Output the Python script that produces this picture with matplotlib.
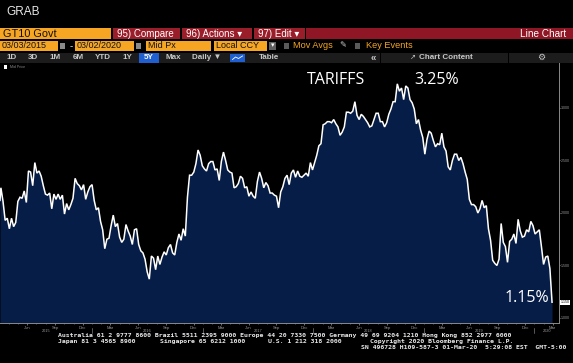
"""
GT10 Govt (US 10Y yield), 5Y line chart in Bloomberg terminal style.
"""
import pandas as pd
import matplotlib
matplotlib.use("Agg")
import matplotlib.pyplot as plt
import matplotlib.dates as mdates
import matplotlib.transforms as mtransforms
from matplotlib.patches import Rectangle

W, H = 573, 363

# ── Yield data: first print + Friday closes, % ────────────────────────────
start_date, start_value = "2015-03-03", 2.12
y2015 = [2.24, 2.11, 1.93, 1.95,
         1.85, 1.95, 1.87, 1.91,
         2.11, 2.15, 2.14, 2.21, 2.10,
         2.40, 2.39, 2.26, 2.48,
         2.38, 2.40, 2.35, 2.26, 2.18,
         2.17, 2.19, 2.04, 2.18,
         2.13, 2.18, 2.13, 2.17,
         1.99, 2.09, 2.03, 2.08, 2.14,
         2.33, 2.28, 2.26, 2.22,
         2.27, 2.13, 2.20, 2.25]
y2016 = [2.27, 2.12, 2.03, 2.05, 1.92,
         1.84, 1.66, 1.75, 1.76,
         1.88, 1.98, 1.87, 1.90,
         1.77, 1.72, 1.75, 1.89, 1.83,
         1.78, 1.70, 1.84, 1.85,
         1.70, 1.64, 1.62, 1.56,
         1.44, 1.37, 1.59, 1.57, 1.46,
         1.59, 1.51, 1.58, 1.63,
         1.60, 1.67, 1.70, 1.62, 1.60,
         1.72, 1.80, 1.74, 1.85,
         1.78, 2.15, 2.36, 2.36,
         2.39, 2.47, 2.60, 2.55, 2.45]
y2017 = [2.42, 2.40, 2.47, 2.49,
         2.49, 2.41, 2.42, 2.31,
         2.49, 2.58, 2.50, 2.41, 2.39,
         2.38, 2.24, 2.25, 2.28,
         2.35, 2.33, 2.24, 2.25,
         2.16, 2.20, 2.16, 2.14, 2.30,
         2.39, 2.33, 2.24, 2.29,
         2.26, 2.19, 2.19, 2.17,
         2.16, 2.05, 2.20, 2.25, 2.33,
         2.36, 2.27, 2.38, 2.41,
         2.34, 2.40, 2.35, 2.34,
         2.36, 2.38, 2.35, 2.48, 2.41]
y2018 = [2.48, 2.55, 2.64, 2.66,
         2.84, 2.85, 2.87, 2.87,
         2.86, 2.89, 2.85, 2.82, 2.74,
         2.77, 2.82, 2.96, 2.96,
         2.95, 2.97, 3.06, 2.93,
         2.89, 2.94, 2.92, 2.89, 2.86,
         2.82, 2.83, 2.89, 2.95,
         2.95, 2.87, 2.87, 2.82, 2.86,
         2.94, 2.99, 3.06, 3.06,
         3.23, 3.16, 3.19, 3.08,
         3.21, 3.19, 3.08, 3.05, 2.99,
         2.85, 2.89, 2.79, 2.72]
y2019 = [2.56, 2.70, 2.78, 2.76,
         2.69, 2.63, 2.66, 2.65,
         2.76, 2.63, 2.59, 2.44, 2.41,
         2.50, 2.56, 2.56, 2.50,
         2.53, 2.47, 2.39, 2.32, 2.13,
         2.08, 2.08, 2.06, 2.00,
         2.04, 2.12, 2.05, 2.07,
         1.85, 1.74, 1.55, 1.52, 1.50,
         1.56, 1.90, 1.72, 1.68,
         1.53, 1.73, 1.75, 1.80,
         1.71, 1.94, 1.83, 1.77, 1.78,
         1.84, 1.82, 1.92, 1.88]
y2020 = [1.80, 1.82, 1.84, 1.68, 1.51,
         1.58, 1.59, 1.47, 1.15]

yields = [start_value] + y2015 + y2016 + y2017 + y2018 + y2019 + y2020
dates = pd.DatetimeIndex([start_date]).append(
    pd.date_range("2015-03-06", "2020-02-28", freq="W-FRI"))
assert len(dates) == len(yields)

right_ticks = [1.0, 1.5, 2.0, 2.5, 3.0]
month_ticks = [3, 6, 9, 12]
years = [2015, 2016, 2017, 2018, 2019, 2020]
x_range = ("2015-03-03", "2020-03-22")
y_range = (0.957, 3.4286)

# ── Colours / fonts ──────────────────────────────────────────────────────
ORANGE = "#f6a623"
RED_BAR = "#8f1624"
RED_BTN = "#9a1d2a"
FILL = "#061d47"
UI = ["Liberation Sans", "DejaVu Sans"]
MONO = "DejaVu Sans Mono"
plt.rcParams["font.family"] = UI

fig = plt.figure(figsize=(W / 100, H / 100), dpi=100, facecolor="black")

# ── Chart axes ───────────────────────────────────────────────────────────
ax_l, ax_r, ax_t, ax_b = 0, 559, 63, 322.5
ax = fig.add_axes([ax_l / W, (H - ax_b) / H, (ax_r - ax_l) / W, (ax_b - ax_t) / H])
ax.set_facecolor("black")
ax.fill_between(dates, yields, y_range[0], color=FILL, lw=0)
ax.plot(dates, yields, color="white", lw=1.1, solid_joinstyle="miter")
ax.set_xlim(pd.Timestamp(x_range[0]), pd.Timestamp(x_range[1]))
ax.set_ylim(*y_range)

for s in ("top", "left"):
    ax.spines[s].set_visible(False)
for s in ("right", "bottom"):
    ax.spines[s].set_color("#8a8a8a")
    ax.spines[s].set_linewidth(0.7)

ax.yaxis.tick_right()
ax.set_yticks(right_ticks)
ax.set_yticklabels([f"{v:.3f}" for v in right_ticks])
ax.tick_params(axis="y", labelsize=2.6, colors="#9a9a9a", length=1.0, width=0.6, pad=0.6)

ax.xaxis.set_major_locator(mdates.MonthLocator(bymonth=month_ticks))
ax.xaxis.set_major_formatter(mdates.DateFormatter("%b"))
ax.xaxis.set_minor_locator(mdates.MonthLocator())
ax.tick_params(axis="x", which="major", labelsize=3, colors="#9a9a9a",
               length=1.5, width=0.5, pad=0.8)
ax.tick_params(axis="x", which="minor", length=1, width=0.4, colors="#8a8a8a")

# year labels centred under each year's visible span, with separators
blend = mtransforms.blended_transform_factory(ax.transData, ax.transAxes)
x0, x1 = pd.Timestamp(x_range[0]), pd.Timestamp(x_range[1])
for yr in years:
    a = max(pd.Timestamp(f"{yr}-01-01"), x0)
    b = min(pd.Timestamp(f"{yr}-12-31"), x1)
    ax.text(a + (b - a) / 2, -0.033, str(yr), transform=blend, fontsize=2.8,
            color="#9a9a9a", ha="center", va="center", clip_on=False)
    if yr > years[0]:
        ax.plot([pd.Timestamp(f"{yr}-01-01")] * 2, [-0.022, -0.042], transform=blend,
                color="#9a9a9a", lw=0.4, clip_on=False)

# last value marker
last = yields[-1]
ax.annotate(f"{last:.3f}", xy=(1.0, last), xycoords=("axes fraction", "data"),
            xytext=(1.2, 0), textcoords="offset points", fontsize=2.6, color="black",
            va="center", ha="left", annotation_clip=False,
            bbox=dict(boxstyle="square,pad=0.1", fc="white", ec="none"))

# ── Terminal chrome (pixel coordinates) ──────────────────────────────────
ov = fig.add_axes([0, 0, 1, 1], zorder=3)
ov.set_xlim(0, W)
ov.set_ylim(H, 0)
ov.axis("off")


def box(xa, ya, xb, yb, color):
    ov.add_patch(Rectangle((xa, ya), xb - xa, yb - ya, facecolor=color, edgecolor="none"))


def txt(x, y, s, size=8, color="white", ha="left", family=UI, **kw):
    ov.text(x, y, s, fontsize=size, color=color, ha=ha, va="center", family=family, **kw)


txt(6, 12, "GRAB", size=8.5, color="#e6e6e6")

# row 1
box(0, 28, 111, 39, ORANGE)
txt(3, 33.7, "GT10 Govt", size=7.8, color="#111111")
box(113, 28, 180, 39, RED_BTN)
txt(117, 33.7, "95) Compare", size=7.0)
box(182, 28, 252, 39, RED_BTN)
txt(186, 33.7, "96) Actions \u25be", size=7.0)
box(254, 28, 305, 39, RED_BTN)
txt(258, 33.7, "97) Edit \u25be", size=7.0)
box(306, 28, W, 39, RED_BAR)
txt(566, 33.7, "Line Chart", size=7.2, ha="right")

# row 2
box(0, 41, 58, 51, ORANGE)
txt(2, 46, "03/03/2015", size=6.5, color="#111111")
box(60, 43, 65, 49, "#8a8a8a")
txt(71, 46, "-", size=7, color="#dddddd", ha="center")
box(75, 41, 134, 51, ORANGE)
txt(77, 46, "03/02/2020", size=6.5, color="#111111")
box(136, 43, 141, 49, "#8a8a8a")
box(146, 41, 211, 51, ORANGE)
txt(148, 46, "Mid Px", size=6.5, color="#111111")
box(214, 41, 267, 51, ORANGE)
txt(216, 46, "Local CCY", size=6.5, color="#111111")
box(269, 42, 276, 50, "#5f5f5f")
txt(272.5, 46, "\u25be", size=5, ha="center", color="white")
box(284, 43, 289, 48.5, "#5a5a5a")
txt(293, 46, "Mov Avgs", size=6.6, color=ORANGE)
txt(339, 46, "\u270e", size=6, color="#cccccc")
box(355, 43, 360, 48.5, "#5a5a5a")
txt(366, 46, "Key Events", size=6.6, color=ORANGE)

# row 3
box(0, 53, W, 62.5, "#1c1c1c")
for x, lab in [(11.5, "1D"), (33, "3D"), (55, "1M"), (78, "6M"), (103, "YTD"),
               (127, "1Y"), (173, "Max"), (207, "Daily \u25bc"), (269, "Table")]:
    txt(x, 57.8, lab, size=5.8, color="#c8c8c8", ha="center", weight="bold")
box(139, 53, 159, 62.5, "#1f5fd0")
txt(149, 57.8, "5Y", size=5.8, color="white", ha="center", weight="bold")
box(230, 53.5, 245, 62, "#1f5fd0")
ov.plot([232.5, 235.5, 238.5, 242.5], [59.5, 57, 58.5, 56], color="white", lw=0.6)
box(380, 53, 381, 62.5, "black")
box(508, 53, 509, 62.5, "black")
txt(373, 57.5, "\u00ab", size=7, color="#c8c8c8", ha="center", weight="bold")
txt(413, 57.8, "\u2197", size=5, color="#c8c8c8", ha="center")
txt(419, 57.8, "Chart Content", size=5.8, color="#c8c8c8", weight="bold")
txt(541, 57.8, "\u2699", size=6.5, color="#c8c8c8", ha="center")

# legend chip
box(3.5, 65, 7, 68.5, "white")
txt(9.5, 66.8, "Mid Price", size=2.6, color="#8a8a8a")

# annotations
ANN = ["Open Sans", "DejaVu Sans"]
txt(336, 80.5, "TARIFFS", size=11.5, color="white", ha="center", family=ANN)
txt(437, 80.5, "3.25%", size=11.5, color="white", ha="center", family=ANN)
txt(527, 297.5, f"{last:.2f}%", size=11.5, color="white", ha="center", family=ANN)

# footer
FOOT = dict(size=4.65, color="#e8e8e8", family=MONO, weight="bold")
txt(58, 335.5, "Australia 61 2 9777 8600 Brazil 5511 2395 9000 Europe 44 20 7330 7500 "
               "Germany 49 69 9204 1210 Hong Kong 852 2977 6000", **FOOT)
txt(58, 341.5, "Japan 81 3 4565 8900", **FOOT)
txt(160, 341.5, "Singapore 65 6212 1000", **FOOT)
txt(268, 341.5, "U.S. 1 212 318 2000", **FOOT)
txt(370, 341.5, "Copyright 2020 Bloomberg Finance L.P.", **FOOT)
txt(361, 347.5, "SN 496728 H109-587-3 01-Mar-20  5:29:08 EST  GMT-5:00", **FOOT)

fig.savefig("out.png", dpi=100, facecolor="black")
